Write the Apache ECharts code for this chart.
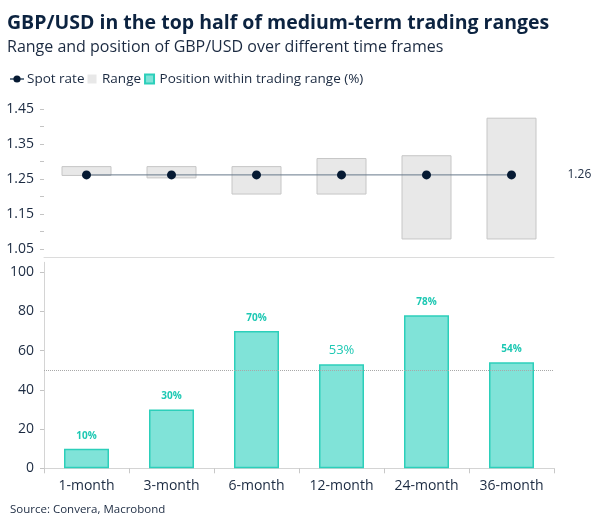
<!DOCTYPE html>
<html>
<head>
<meta charset="utf-8">
<script src="https://cdn.jsdelivr.net/npm/echarts@6/dist/echarts.min.js"></script>
<style>
html,body{margin:0;padding:0;background:#fff;}
#c{width:604px;height:529px;}
</style>
</head>
<body>
<div id="c"></div>
<script>
const categories = ['1-month', '3-month', '6-month', '12-month', '24-month', '36-month'];
const spotRate = [1.262, 1.262, 1.262, 1.262, 1.262, 1.262];
const rangeLow = [1.259, 1.252, 1.206, 1.206, 1.078, 1.078];
const rangeHigh = [1.287, 1.287, 1.287, 1.310, 1.318, 1.425];
const positionPct = [10, 30, 70, 53, 78, 54];
const rateTicks = [1.05, 1.10, 1.15, 1.20, 1.25, 1.30, 1.35, 1.40, 1.45];
const rateLabels = [1.05, 1.15, 1.25, 1.35, 1.45];
const pctTicks = [0, 20, 40, 60, 80, 100];
const midLine = 50;

const FONT = 'Open Sans';
const DARK = '#1b2a41';
const SQUARE = 'path://M0,0H10V10H0Z';

const rangeSpan = rangeHigh.map((h, i) => +(h - rangeLow[i]).toFixed(4));

const chart = echarts.init(document.getElementById('c'), null, {renderer: 'canvas'});
chart.setOption({
  animation: false,
  textStyle: {fontFamily: FONT},
  title: {
    text: 'GBP/USD in the top half of medium-term trading ranges',
    subtext: 'Range and position of GBP/USD over different time frames',
    left: 2, top: 8, itemGap: 6,
    textStyle: {fontFamily: FONT, fontSize: 19.5, fontWeight: 'bold', color: '#0c2340'},
    subtextStyle: {fontFamily: FONT, fontSize: 16, color: DARK}
  },
  legend: {
    left: 4, top: 67, itemGap: 3, itemWidth: 14, itemHeight: 9,
    textStyle: {fontFamily: FONT, fontSize: 13.5, color: DARK, padding: [0, 0, 0, -2]},
    data: [
      {name: 'Spot rate'},
      {name: 'Range', icon: SQUARE, itemStyle: {borderWidth: 0}},
      {name: 'Position within trading range (%)', icon: SQUARE}
    ]
  },
  grid: [
    {left: 44, right: 50, top: 97, bottom: 271.3},
    {left: 44, right: 50, top: 262.3, bottom: 60.7}
  ],
  xAxis: [
    {type: 'category', gridIndex: 0, data: categories,
     axisLine: {show: true, lineStyle: {color: '#dcdcdc'}},
     axisTick: {show: false}, axisLabel: {show: false}},
    {type: 'category', gridIndex: 1, data: categories,
     axisLine: {show: true, lineStyle: {color: '#d4d4d4'}},
     axisTick: {show: true, length: 5, lineStyle: {color: '#c8c8c8'}},
     axisLabel: {fontFamily: FONT, fontSize: 14, color: DARK, margin: 11}}
  ],
  yAxis: [
    {type: 'value', gridIndex: 0, min: 1.026, max: 1.484,
     axisLine: {show: false}, splitLine: {show: false},
     axisTick: {show: true, length: 4, customValues: rateTicks, lineStyle: {color: '#c4c4c4'}},
     axisLabel: {fontFamily: FONT, fontSize: 14, color: DARK, margin: 10,
                 customValues: rateLabels, formatter: v => v.toFixed(2)}},
    {type: 'value', gridIndex: 1, min: 0, max: 105,
     axisLine: {show: true, lineStyle: {color: '#d4d4d4'}}, splitLine: {show: false},
     axisTick: {show: true, length: 4, customValues: pctTicks, lineStyle: {color: '#c4c4c4'}},
     axisLabel: {fontFamily: FONT, fontSize: 14, color: DARK, margin: 10,
                 customValues: pctTicks}}
  ],
  series: [
    {name: 'rangeBase', type: 'bar', xAxisIndex: 0, yAxisIndex: 0, stack: 'rng',
     data: rangeLow, barWidth: 50, silent: true,
     itemStyle: {color: 'rgba(0,0,0,0)'}},
    {name: 'Range', type: 'bar', xAxisIndex: 0, yAxisIndex: 0, stack: 'rng',
     data: rangeSpan, barWidth: 50,
     itemStyle: {color: '#e8e8e8', borderColor: '#c6c6c6', borderWidth: 1}},
    {name: 'Spot rate', type: 'line', xAxisIndex: 0, yAxisIndex: 0,
     data: spotRate, symbol: 'circle', symbolSize: 9, z: 5,
     lineStyle: {color: '#66788a', width: 1},
     itemStyle: {color: '#061a33'},
     endLabel: {show: true, distance: 56, fontFamily: FONT, fontSize: 12, color: DARK,
                formatter: p => p.value.toFixed(2)}},
    {name: 'Position within trading range (%)', type: 'bar', xAxisIndex: 1, yAxisIndex: 1,
     data: positionPct.map((v, i) => ({
       value: v,
       label: i === 3 ? {fontSize: 13, fontWeight: 'normal', distance: 8} : {}
     })),
     barWidth: 45,
     itemStyle: {color: '#80e3d8', borderColor: '#2ccfba', borderWidth: 1.5},
     label: {show: true, position: 'top', distance: 8, fontFamily: FONT, fontSize: 10,
             fontWeight: 'bold', color: '#1dc8b3', formatter: p => p.value + '%'},
     markLine: {silent: true, symbol: 'none', label: {show: false},
                lineStyle: {type: 'dotted', color: '#a8a8a8', width: 1},
                data: [{yAxis: midLine}]}}
  ],
  graphic: [
    {type: 'text', left: 10, top: 504,
     style: {text: 'Source: Convera, Macrobond', fontFamily: FONT, fontSize: 11.5, fill: DARK}}
  ]
});
</script>
</body>
</html>
